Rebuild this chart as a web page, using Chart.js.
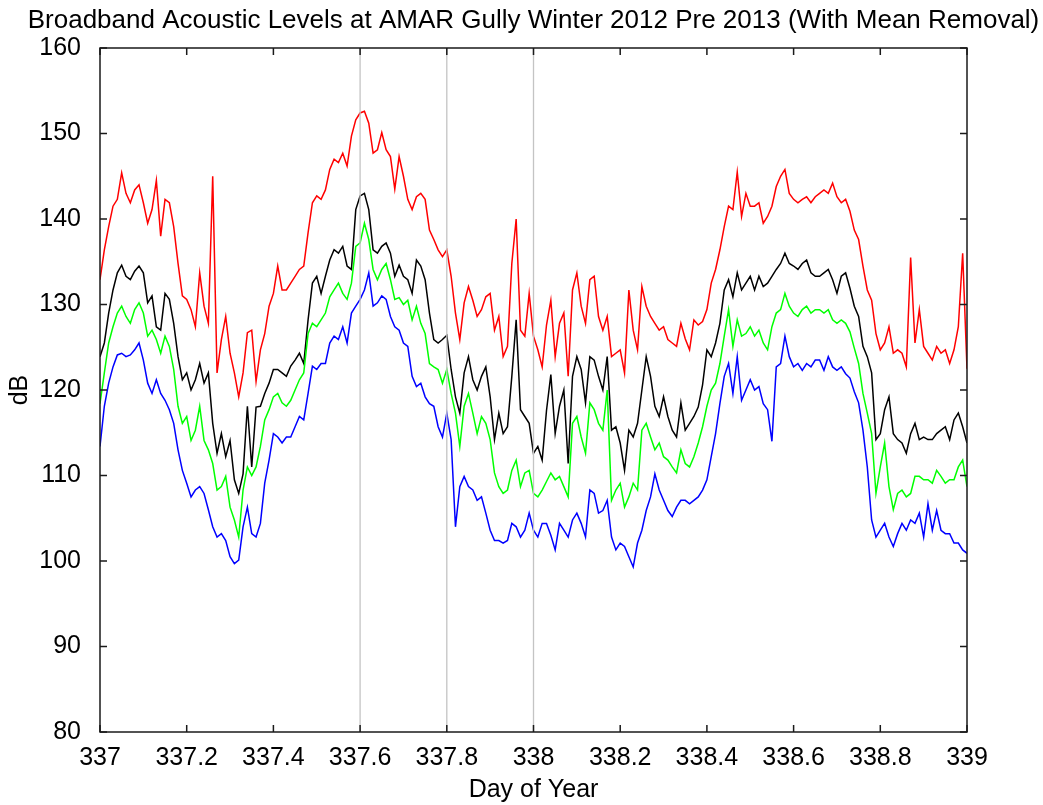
<!DOCTYPE html>
<html>
<head>
<meta charset="utf-8">
<title>Broadband Acoustic Levels</title>
<script src="https://cdn.jsdelivr.net/npm/chart.js@4.4.1/dist/chart.umd.min.js"></script>
<style>
  html, body { margin: 0; padding: 0; background: #fff; }
</style>
</head>
<body>
<canvas id="levelsChart" width="1043" height="805"></canvas>
<script>
// Broadband levels, one sample every 0.01 day from day 337 to 339
const dayStart = 337;
const dayStep = 0.01;

const redLevels = [
  132.9, 136.4, 139.1, 141.5, 142.3, 145.4, 143.0, 141.9, 143.4, 144.0,
  141.9, 139.5, 141.1, 144.5, 138.0, 142.3, 141.9, 139.1, 134.8, 131.0,
  130.6, 129.4, 127.4, 133.7, 129.8, 127.8, 145.0, 122.0, 125.9, 128.6,
  124.3, 122.0, 119.2, 122.0, 126.7, 127.0, 121.0, 124.7, 126.6, 129.8,
  131.3, 134.5, 131.7, 131.7, 132.5, 133.3, 134.1, 134.5, 138.4, 141.9,
  142.7, 142.3, 143.4, 145.8, 147.0, 146.6, 147.7, 146.2, 149.7, 151.6,
  152.4, 152.6, 151.2, 147.7, 148.1, 150.1, 148.1, 147.3, 143.5, 147.3,
  145.0, 142.3, 141.1, 142.6, 143.0, 142.3, 138.7, 137.6, 136.4, 135.6,
  136.4, 133.3, 129.0, 125.9, 130.2, 132.1, 130.5, 128.6, 129.4, 130.9,
  131.3, 127.0, 128.6, 123.9, 125.1, 134.8, 140.0, 127.0, 126.3, 131.3,
  126.3, 124.7, 122.7, 127.6, 130.5, 123.9, 127.8, 129.0, 121.6, 131.7,
  133.7, 129.8, 127.8, 132.9, 133.3, 128.6, 127.0, 128.6, 123.9, 124.3,
  124.7, 122.0, 131.7, 127.0, 124.7, 132.1, 129.8, 128.6, 127.8, 127.0,
  127.4, 125.9, 125.5, 125.1, 127.8, 126.0, 124.7, 128.2, 127.6, 128.0,
  129.4, 132.5, 134.1, 136.4, 139.1, 141.5, 141.1, 145.5, 140.3, 143.0,
  141.5, 141.5, 141.9, 139.5, 140.3, 141.5, 143.8, 145.0, 145.8, 143.0,
  142.3, 141.9, 142.3, 142.6, 141.9, 142.6, 143.0, 143.4, 143.0, 144.2,
  142.6, 141.9, 142.3, 140.9, 138.7, 137.6, 134.5, 131.7, 130.5, 126.6,
  124.7, 125.5, 127.4, 124.3, 124.7, 124.3, 122.7, 135.5, 125.5, 129.4,
  125.1, 124.3, 123.5, 125.1, 124.3, 124.7, 123.1, 124.7, 127.4, 136.0,
  122.5
];

const blackLevels = [
  123.9, 125.5, 129.0, 131.7, 133.7, 134.6, 133.3, 132.9, 133.9, 134.5,
  133.7, 130.2, 131.0, 127.4, 127.0, 131.3, 130.6, 127.8, 123.9, 121.2,
  122.0, 120.0, 121.2, 123.1, 120.8, 122.0, 116.1, 112.6, 114.9, 112.2,
  114.1, 109.5, 107.9, 110.2, 118.1, 111.0, 118.0, 118.1, 119.6, 120.8,
  122.4, 122.4, 122.0, 121.6, 122.8, 123.5, 124.3, 123.1, 128.2, 132.5,
  133.3, 131.3, 133.3, 135.2, 136.4, 136.0, 136.8, 134.5, 134.1, 141.1,
  142.7, 143.0, 141.1, 136.4, 136.0, 136.8, 137.2, 136.0, 133.3, 134.6,
  133.3, 132.9, 131.3, 135.2, 134.5, 132.9, 129.0, 125.9, 125.5, 125.9,
  126.4, 122.4, 119.2, 117.3, 122.0, 123.9, 121.2, 120.0, 121.6, 122.7,
  119.2, 114.2, 117.3, 114.9, 115.7, 121.6, 128.2, 117.7, 116.9, 116.1,
  112.6, 113.4, 111.8, 117.6, 121.8, 114.9, 118.1, 120.0, 111.4, 121.6,
  123.9, 122.4, 118.5, 123.9, 123.5, 121.6, 120.0, 123.9, 115.3, 115.7,
  113.8, 110.6, 115.3, 114.5, 116.1, 120.0, 123.9, 121.6, 118.1, 116.9,
  119.2, 116.9, 115.3, 114.5, 118.5, 115.3, 116.1, 116.9, 118.0, 120.6,
  124.7, 123.9, 125.5, 127.8, 131.7, 132.9, 130.9, 133.7, 131.7, 132.5,
  133.3, 131.7, 133.3, 132.1, 132.5, 133.3, 134.1, 134.8, 136.0, 134.8,
  134.5, 134.1, 134.8, 135.2, 133.7, 133.3, 133.3, 133.7, 134.1, 132.9,
  131.3, 133.3, 133.7, 131.9, 129.8, 128.6, 125.1, 123.9, 122.0, 114.2,
  114.9, 117.7, 119.2, 114.9, 114.2, 113.8, 112.6, 114.9, 116.1, 114.2,
  114.5, 114.2, 114.2, 114.9, 115.3, 115.7, 114.2, 116.5, 117.3, 115.7,
  113.8
];

const greenLevels = [
  118.4, 122.0, 125.5, 127.4, 129.0, 129.8, 128.6, 127.8, 129.4, 130.2,
  129.0, 126.3, 127.0, 125.9, 124.3, 126.3, 125.1, 122.4, 118.1, 116.1,
  116.9, 114.1, 115.3, 118.1, 114.1, 113.0, 111.4, 108.3, 108.7, 109.9,
  106.3, 104.8, 102.8, 108.3, 111.0, 110.0, 111.0, 113.4, 116.5, 117.7,
  119.2, 119.6, 118.5, 118.1, 118.8, 120.0, 121.2, 122.0, 126.6, 127.8,
  127.4, 128.2, 129.0, 130.9, 131.7, 132.5, 131.3, 130.6, 132.5, 136.8,
  137.2, 139.5, 137.6, 134.1, 132.9, 134.1, 134.8, 132.9, 130.6, 130.8,
  130.0, 130.5, 128.2, 129.8, 127.8, 126.6, 123.1, 122.7, 122.4, 120.8,
  122.4, 119.6, 117.3, 113.4, 118.1, 119.6, 117.3, 114.9, 116.9, 116.1,
  114.2, 110.3, 108.7, 107.9, 108.3, 110.6, 111.8, 108.7, 110.3, 110.6,
  107.9, 107.5, 108.3, 109.3, 110.3, 109.5, 109.9, 108.7, 107.5, 116.1,
  116.9, 114.5, 112.6, 118.5, 117.7, 116.1, 115.3, 120.0, 107.1, 108.3,
  109.1, 106.3, 107.5, 109.1, 108.3, 115.3, 116.1, 114.5, 113.0, 113.8,
  112.2, 111.8, 111.0, 110.3, 113.0, 111.4, 111.0, 112.2, 113.8, 115.7,
  118.1, 120.0, 120.8, 123.1, 126.3, 129.4, 125.1, 128.2, 126.3, 126.6,
  127.4, 126.3, 127.0, 125.5, 124.7, 127.4, 129.0, 129.4, 131.3, 129.8,
  129.0, 128.6, 129.4, 129.8, 129.0, 129.4, 129.4, 129.0, 129.4, 128.2,
  127.8, 128.2, 127.8, 126.8, 124.9, 123.1, 119.6, 117.3, 114.9, 107.9,
  111.0, 113.8, 108.7, 106.0, 107.9, 108.3, 107.5, 107.9, 109.9, 109.9,
  109.5, 109.5, 109.1, 110.6, 109.9, 109.1, 109.5, 109.5, 111.0, 111.8,
  108.7
];

const blueLevels = [
  113.4, 118.1, 120.8, 122.7, 124.1, 124.3, 123.9, 124.1, 124.7, 125.5,
  123.5, 120.8, 119.6, 121.2, 119.6, 118.8, 117.7, 116.1, 113.0, 110.6,
  109.1, 107.5, 108.3, 108.7, 107.9, 106.0, 104.0, 102.8, 103.2, 102.4,
  100.5, 99.7, 100.1, 104.0, 106.3, 103.2, 102.8, 104.4, 109.1, 111.8,
  114.9, 114.5, 113.8, 114.5, 114.5, 115.7, 116.9, 116.5, 119.6, 122.8,
  122.4, 123.1, 123.1, 125.5, 126.3, 125.9, 127.4, 125.5, 129.0, 129.8,
  130.6, 131.7, 133.7, 129.8, 130.2, 131.0, 130.6, 128.6, 127.4, 127.0,
  125.5, 125.1, 121.6, 120.4, 120.8, 119.2, 118.4, 118.1, 115.7, 114.5,
  117.3, 114.2, 104.0, 108.7, 109.9, 108.7, 108.3, 107.1, 107.5, 105.6,
  103.6, 102.4, 102.4, 102.1, 102.4, 104.4, 104.0, 102.8, 103.6, 105.6,
  103.6, 102.8, 104.4, 104.4, 103.0, 101.3, 104.4, 103.6, 102.8, 104.8,
  105.6, 104.4, 102.8, 108.3, 107.9, 105.6, 105.9, 107.1, 102.8, 101.3,
  102.1, 101.7, 100.5, 99.3, 102.1, 103.6, 105.9, 107.5, 110.2, 108.3,
  107.1, 105.9, 105.2, 106.3, 107.1, 107.1, 106.7, 107.1, 107.5, 108.3,
  109.5, 112.2, 114.9, 118.4, 121.6, 123.1, 119.6, 123.9, 118.8, 120.0,
  121.2, 120.0, 120.4, 118.4, 117.7, 114.0, 122.7, 123.1, 126.3, 123.9,
  122.7, 123.1, 122.3, 123.1, 122.7, 123.5, 123.5, 122.3, 123.9, 122.7,
  122.3, 122.7, 121.9, 121.4, 119.8, 118.5, 115.3, 111.0, 104.8, 102.8,
  103.6, 104.4, 102.8, 101.7, 103.2, 104.4, 103.6, 104.8, 104.4, 105.6,
  102.8, 106.7, 103.6, 105.9, 103.6, 103.2, 103.2, 102.1, 102.1, 101.3,
  100.9
];

// Vertical reference lines and axis ticks
const markerDays = [337.6, 337.8, 338.0];
const dayTicks = [337, 337.2, 337.4, 337.6, 337.8, 338, 338.2, 338.4, 338.6, 338.8, 339];
const levelTicks = [80, 90, 100, 110, 120, 130, 140, 150, 160];

const titleText = 'Broadband Acoustic Levels at AMAR Gully Winter 2012 Pre 2013 (With Mean Removal)';
const fontFamily = '"Liberation Sans", Arial, Helvetica, sans-serif';

function toPoints(levels) {
    return levels.map(function (v, i) {
        return { x: dayStart + i * dayStep, y: v };
    });
}

function seriesDataset(levels, color) {
    return {
        data: toPoints(levels),
        borderColor: color,
        borderWidth: 1.5,
        pointRadius: 0,
        tension: 0,
        order: 1
    };
}

const markerDatasets = markerDays.map(function (d) {
    return {
        data: [{ x: d, y: 80 }, { x: d, y: 160 }],
        borderColor: '#c4c4c4',
        borderWidth: 1.3,
        pointRadius: 0,
        order: 0
    };
});

// Box frame with inward ticks on all four sides, plus the title line
const framePlugin = {
    id: 'frame',
    afterDraw: function (chart) {
        const ctx = chart.ctx;
        const a = chart.chartArea;
        const xs = chart.scales.x;
        const ys = chart.scales.y;
        const tick = 7;

        ctx.save();
        ctx.strokeStyle = '#1a1a1a';
        ctx.lineWidth = 1.5;
        ctx.strokeRect(a.left, a.top, a.right - a.left, a.bottom - a.top);

        ctx.beginPath();
        dayTicks.forEach(function (d) {
            const x = xs.getPixelForValue(d);
            ctx.moveTo(x, a.bottom);
            ctx.lineTo(x, a.bottom - tick);
            ctx.moveTo(x, a.top);
            ctx.lineTo(x, a.top + tick);
        });
        levelTicks.forEach(function (v) {
            const y = ys.getPixelForValue(v);
            ctx.moveTo(a.left, y);
            ctx.lineTo(a.left + tick, y);
            ctx.moveTo(a.right, y);
            ctx.lineTo(a.right - tick, y);
        });
        ctx.stroke();

        ctx.fillStyle = '#000';
        ctx.font = '26px ' + fontFamily;
        ctx.textAlign = 'center';
        ctx.textBaseline = 'alphabetic';
        ctx.fillText(titleText, (a.left + a.right) / 2, 28);
        ctx.restore();
    }
};

document.addEventListener('DOMContentLoaded', function () {
    const el = document.getElementById('levelsChart');

    new Chart(el, {
        type: 'line',
        data: {
            datasets: markerDatasets.concat([
                seriesDataset(blueLevels, '#0000ff'),
                seriesDataset(greenLevels, '#00ff00'),
                seriesDataset(blackLevels, '#000000'),
                seriesDataset(redLevels, '#ff0000')
            ])
        },
        options: {
            responsive: false,
            animation: false,
            events: [],
            layout: {
                padding: { top: 48, right: 76, bottom: 0, left: 0 }
            },
            plugins: {
                legend: { display: false },
                tooltip: { enabled: false },
                title: { display: false }
            },
            scales: {
                x: {
                    type: 'linear',
                    min: 337,
                    max: 339,
                    afterBuildTicks: function (scale) {
                        scale.ticks = dayTicks.map(function (v) { return { value: v }; });
                    },
                    afterFit: function (scale) { scale.height = 73; },
                    grid: { display: false },
                    border: { display: false },
                    ticks: {
                        autoSkip: false,
                        maxRotation: 0,
                        padding: 3,
                        color: '#000',
                        font: { family: fontFamily, size: 25 },
                        callback: function (value) {
                            return String(Math.round(value * 10) / 10);
                        }
                    },
                    title: {
                        display: true,
                        text: 'Day of Year',
                        color: '#000',
                        font: { family: fontFamily, size: 25 },
                        padding: { top: 0, bottom: 0 }
                    }
                },
                y: {
                    min: 80,
                    max: 160,
                    afterBuildTicks: function (scale) {
                        scale.ticks = levelTicks.map(function (v) { return { value: v }; });
                    },
                    afterFit: function (scale) { scale.width = 100; },
                    grid: { display: false },
                    border: { display: false },
                    ticks: {
                        padding: 11,
                        color: '#000',
                        font: { family: fontFamily, size: 25 }
                    },
                    title: {
                        display: true,
                        text: 'dB',
                        color: '#000',
                        font: { family: fontFamily, size: 25 },
                        padding: { top: 5, bottom: 0 }
                    }
                }
            }
        },
        plugins: [framePlugin]
    });
});
</script>
</body>
</html>
